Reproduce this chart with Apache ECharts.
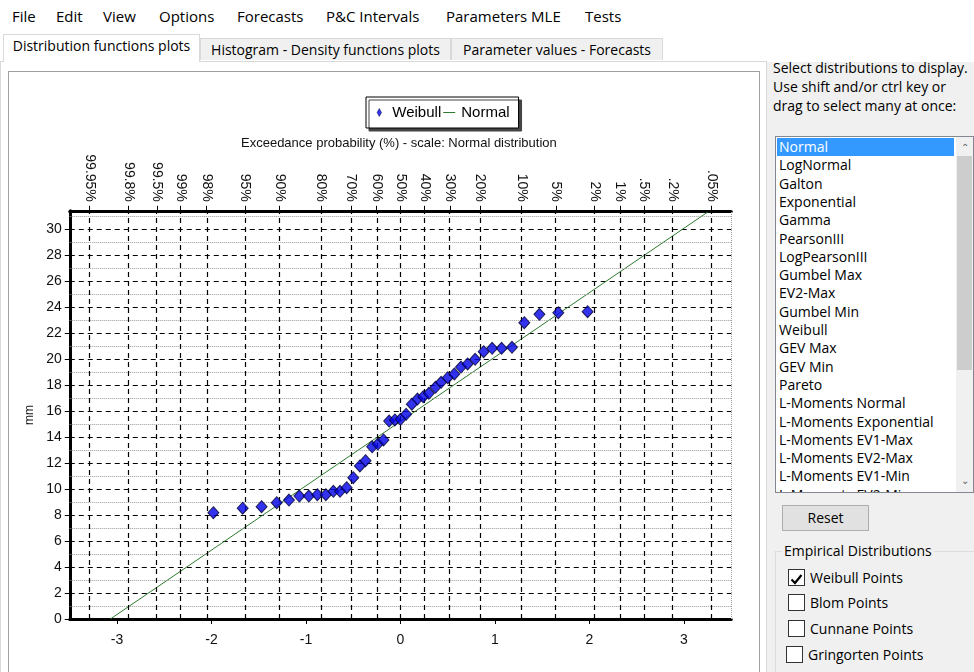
<!DOCTYPE html>
<html>
<head>
<meta charset="utf-8">
<script src="https://cdn.jsdelivr.net/npm/echarts@6/dist/echarts.min.js"></script>
<style>
  html, body { margin:0; padding:0; }
  body { width:974px; height:672px; overflow:hidden; position:relative; background:#f0f0f0;
         font-family:"Open Sans","Noto Sans",sans-serif; color:#000; }
  .abs { position:absolute; white-space:nowrap; }
  #menubar { left:0; top:0; width:974px; height:31px; background:#ffffff; }
  .menu { top:6px; font-size:15px; line-height:20px; }
  #tabstrip { left:0; top:31px; width:974px; height:31px; background:#ffffff; }
  .tab { height:22px; background:#f0f0f0; border:1px solid #d9d9d9; border-bottom:none;
         font-size:14px; line-height:21px; text-align:center; box-sizing:border-box; }
  .tab.sel { background:#ffffff; height:28px; z-index:3; }
  #page { left:0; top:61px; width:767px; height:620px; background:#ffffff; border:1px solid #d9d9d9; box-sizing:border-box; }
  #frame { left:8px; top:71px; width:752px; height:620px; background:#fff; border:1px solid #a0a0a0; box-sizing:border-box; }
  #chart { left:9px; top:72px; width:750px; height:600px; }
  .rtext { font-size:14px; line-height:19px; left:773px; }
  #list { left:775px; top:136px; width:199px; height:357px; background:#fff; border:1px solid #828790; box-sizing:border-box; overflow:hidden; }
  .item { position:absolute; left:3px; font-size:14px; line-height:18px; height:18px; white-space:nowrap; }
  .item.sel { background:#3399ff; color:#fff; left:1px; padding-left:2px; width:175px; }
  #sbar { position:absolute; right:0; top:0; width:17px; height:355px; background:#f0f0f0; }
  #thumb { position:absolute; left:1px; top:19px; width:15px; height:214px; background:#cdcdcd; }
  .arrow { position:absolute; left:0; width:17px; text-align:center; font-size:10px; color:#606060; }
  #reset { left:782px; top:505px; width:87px; height:26px; background:#e1e1e1; border:1px solid #adadad; box-sizing:border-box;
           font-size:14px; line-height:24px; text-align:center; }
  #group { left:775px; top:551px; width:210px; height:140px; border:1px solid #dcdcdc; box-sizing:border-box; }
  #glabel { left:782px; top:541px; font-size:14px; line-height:19px; background:#f0f0f0; padding:0 2px; }
  .cb { width:17px; height:17px; background:#fff; border:1px solid #333; box-sizing:border-box; }
  .cbl { font-size:14px; line-height:19px; }
</style>
</head>
<body>
<div id="menubar" class="abs"></div>
<div class="abs menu" style="left:12px">File</div>
<div class="abs menu" style="left:56px">Edit</div>
<div class="abs menu" style="left:103px">View</div>
<div class="abs menu" style="left:159px">Options</div>
<div class="abs menu" style="left:237px">Forecasts</div>
<div class="abs menu" style="left:326px">P&amp;C Intervals</div>
<div class="abs menu" style="left:446px">Parameters MLE</div>
<div class="abs menu" style="left:585px">Tests</div>

<div id="tabstrip" class="abs"></div>
<div id="page" class="abs"></div>
<div class="abs tab sel" style="left:3px; top:34px; width:197px;">Distribution functions plots</div>
<div class="abs tab" style="left:200px; top:38px; width:251px;">Histogram - Density functions plots</div>
<div class="abs tab" style="left:451px; top:38px; width:212px;">Parameter values - Forecasts</div>
<div id="frame" class="abs"></div>
<div id="chart" class="abs"></div>

<div class="abs rtext" style="top:58px">Select distributions to display.</div>
<div class="abs rtext" style="top:77px">Use shift and/or ctrl key or</div>
<div class="abs rtext" style="top:96px">drag to select many at once:</div>
<div id="list" class="abs"><div id="sbar"><div class="arrow" style="top:3px">&#8963;</div><div id="thumb"></div><div class="arrow" style="top:336px">&#8964;</div></div></div>
<div id="reset" class="abs">Reset</div>
<div id="group" class="abs"></div>
<div id="glabel" class="abs">Empirical Distributions</div>
<div id="checks"></div>

<script>
// ---------------- data ----------------
const menuItems = ['File','Edit','View','Options','Forecasts','P&C Intervals','Parameters MLE','Tests'];
const distributionList = ['Normal','LogNormal','Galton','Exponential','Gamma','PearsonIII','LogPearsonIII',
  'Gumbel Max','EV2-Max','Gumbel Min','Weibull','GEV Max','GEV Min','Pareto','L-Moments Normal',
  'L-Moments Exponential','L-Moments EV1-Max','L-Moments EV2-Max','L-Moments EV1-Min','L-Moments EV2-Min'];
const empiricalOptions = ['Weibull Points','Blom Points','Cunnane Points','Gringorten Points'];
const empiricalChecked = [true,false,false,false];

// top axis: exceedance probability ticks (positions in standard normal variate)
const topTickZ = [-3.2905,-2.8782,-2.5758,-2.3263,-2.0537,-1.6449,-1.2816,-0.8416,-0.5244,-0.2533,0,
                  0.2533,0.5244,0.8416,1.2816,1.6449,2.0537,2.3263,2.5758,2.8782,3.2905];
const topTickLabels = ['99.95%','99.8%','99.5%','99%','98%','95%','90%','80%','70%','60%','50%',
                       '40%','30%','20%','10%','5%','2%','1%','.5%','.2%','.05%'];
const bottomTicks = [-3,-2,-1,0,1,2,3];
const yMinorLines = [1,3,5,7,9,11,13,15,17,19,21,23,25,27,29,31];

// Weibull empirical points (standard normal variate, mm)
const weibullZ = [-1.98,-1.67,-1.47,-1.31,-1.18,-1.07,-0.97,-0.88,-0.79,-0.71,-0.64,-0.57,-0.50,-0.43,
                  -0.37,-0.30,-0.24,-0.18,-0.12,-0.06,0.00,0.06,0.12,0.18,0.24,0.30,0.37,0.43,0.50,0.57,
                  0.64,0.71,0.79,0.88,0.97,1.07,1.18,1.31,1.47,1.67,1.98];
const weibullMM = [8.18,8.52,8.64,8.95,9.15,9.46,9.46,9.56,9.56,9.82,9.82,10.1,10.87,11.77,
                   12.18,13.25,13.46,13.77,15.23,15.31,15.36,15.75,16.52,16.92,17.1,17.36,17.82,18.21,18.56,18.85,
                   19.38,19.62,19.98,20.56,20.82,20.82,20.9,22.79,23.44,23.56,23.64];
// Normal distribution fitted line (end points)
const normalZ = [-3.07, 3.25];
const normalMM = [0, 31.3];

// ---------------- UI chrome ----------------
const list = document.getElementById('list');
distributionList.forEach((d,i) => {
  const el = document.createElement('div');
  el.className = 'item' + (i===0 ? ' sel' : '');
  el.style.top = (1 + i*18.3) + 'px';
  el.textContent = d;
  list.insertBefore(el, document.getElementById('sbar'));
});
const checks = document.getElementById('checks');
const cbTops = [569, 594, 620, 646];
empiricalOptions.forEach((t,i) => {
  const b = document.createElement('div');
  b.className = 'abs cb';
  b.style.left = (i===3 ? 786 : 788) + 'px';
  b.style.top = cbTops[i] + 'px';
  if (empiricalChecked[i]) b.innerHTML = '<svg width="15" height="15" viewBox="0 0 15 15"><path d="M2.5 7.5 L6 11 L12.5 3" stroke="#000" stroke-width="2.2" fill="none"/></svg>';
  checks.appendChild(b);
  const l = document.createElement('div');
  l.className = 'abs cbl';
  l.style.left = (i===3 ? 808 : 810) + 'px';
  l.style.top = (cbTops[i] - 1) + 'px';
  l.textContent = t;
  checks.appendChild(l);
});

// ---------------- chart ----------------
const chart = echarts.init(document.getElementById('chart'), null, {renderer:'canvas'});
const FONT = '"Liberation Sans", Arial, sans-serif';
const labelFor = v => { const i = topTickZ.findIndex(z => Math.abs(z - v) < 1e-3); return i >= 0 ? topTickLabels[i] : ''; };
const GREEN = '#2e7a2e';

const option = {
  backgroundColor: '#ffffff',
  animation: false,
  title: {
    text: 'Exceedance probability (%) - scale: Normal distribution',
    left: 227, top: 60,
    textStyle: { fontFamily: FONT, fontSize: 13, fontWeight: 'normal', color: '#111' }
  },
  legend: {
    left: 357, top: 25,
    padding: [8, 9, 8, 7],
    itemWidth: 14, itemHeight: 10, itemGap: 1,
    backgroundColor: '#ffffff', borderColor: '#000', borderWidth: 1,
    shadowColor: '#444', shadowBlur: 0, shadowOffsetX: 3, shadowOffsetY: 3,
    textStyle: { fontFamily: FONT, fontSize: 15, color: '#000' },
    data: [
      { name: 'Weibull', icon: 'path://M0,0h0.01M14,10h0.01M6,1L8.2,5L6,9L3.8,5Z',
        itemStyle: { color: '#0000e8', borderColor: '#000040', borderWidth: 0.6 } },
      { name: 'Normal', icon: 'path://M0,0h0.01M14,10h0.01M1,4.5L13,4.5L13,5.5L1,5.5Z',
        itemStyle: { color: GREEN, borderWidth: 0 } }
    ]
  },
  grid: { left: 60.75, top: 138.8, right: 27.75, bottom: 53, containLabel: false },
  xAxis: [
    {
      type: 'value', position: 'bottom', min: -3.5, max: 3.5, z: 3,
      axisLine: { show: true, onZero: false, lineStyle: { color: '#000', width: 3 } },
      axisTick: { show: true, customValues: bottomTicks, length: 5, lineStyle: { color: '#000', width: 1 } },
      axisLabel: { customValues: bottomTicks, margin: 14, fontFamily: FONT, fontSize: 14, color: '#111' },
      splitLine: { show: false }
    },
    {
      type: 'value', position: 'top', min: -3.5, max: 3.5, z: 3,
      axisLine: { show: true, onZero: false, lineStyle: { color: '#000', width: 3 } },
      axisTick: { show: true, customValues: topTickZ, length: 5, lineStyle: { color: '#000', width: 1 } },
      axisLabel: { customValues: topTickZ, formatter: labelFor, rotate: 90, margin: 9,
                   fontFamily: FONT, fontSize: 14, color: '#111' },
      splitLine: { show: false }
    }
  ],
  yAxis: {
    type: 'value', min: 0, max: 31.4, interval: 2, z: 3,
    name: 'mm', nameLocation: 'middle', nameGap: 31, nameRotate: 90,
    nameTextStyle: { fontFamily: FONT, fontSize: 12, color: '#111' },
    axisLine: { show: true, onZero: false, lineStyle: { color: '#000', width: 3 } },
    axisTick: { show: true, length: 5, lineStyle: { color: '#000', width: 1 } },
    axisLabel: { showMaxLabel: false, margin: 8, fontFamily: FONT, fontSize: 14, color: '#111' },
    splitLine: { show: true, lineStyle: { color: '#000', width: 1.2, type: [5, 4] } }
  },
  series: [
    {
      name: 'grid-lines', type: 'line', data: [], z: 1, silent: true,
      markLine: {
        silent: true, symbol: 'none', animation: false, label: { show: false },
        data: [
          ...yMinorLines.map(v => ({ yAxis: v, lineStyle: { color: '#9a9a9a', width: 1, type: [1, 1] } })),
          ...topTickZ.map(v => ({ xAxis: v, lineStyle: { color: '#000', width: 1.2, type: [5, 4] } })),
          { xAxis: 3.5, lineStyle: { color: '#9a9a9a', width: 1, type: [1, 1] } }
        ]
      }
    },
    {
      name: 'Normal', type: 'line', z: 4,
      data: normalZ.map((z, i) => [z, normalMM[i]]),
      symbol: 'none', clip: true,
      lineStyle: { color: GREEN, width: 1 },
      itemStyle: { color: GREEN }
    },
    {
      name: 'Weibull', type: 'scatter', z: 5,
      data: weibullZ.map((z, i) => [z, weibullMM[i]]),
      symbol: 'diamond', symbolSize: [11, 12],
      itemStyle: { color: '#0000e8', borderColor: '#000033', borderWidth: 1 }
    }
  ]
};
chart.setOption(option);
</script>
</body>
</html>
